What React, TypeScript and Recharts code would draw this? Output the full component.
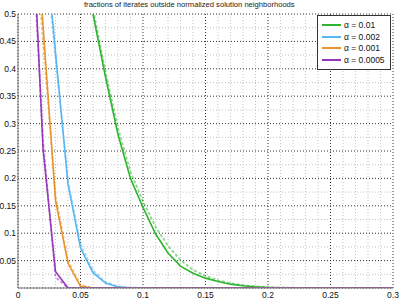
import { LineChart, Line, XAxis, YAxis, CartesianGrid, Legend } from 'recharts';

// sample positions (x axis)
const xs = [
  0.01, 0.02, 0.03, 0.04, 0.05, 0.06, 0.07, 0.08, 0.09, 0.1,
  0.11, 0.12, 0.13, 0.14, 0.15, 0.16, 0.17, 0.18, 0.19, 0.2,
  0.21, 0.22, 0.23, 0.24, 0.25, 0.26, 0.27, 0.28, 0.29, 0.3,
];

const alphaLabels = ['α = 0.01', 'α = 0.002', 'α = 0.001', 'α = 0.0005'];

// measured fractions (solid)
const measured001 = [
  null, null, null, null, 0.64, 0.5, 0.385, 0.28, 0.2, 0.147,
  0.099, 0.064, 0.04, 0.027, 0.018, 0.012, 0.007, 0.004, 0.002, 0.001,
  0, 0, 0, 0, 0, 0, 0, 0, 0, 0,
];
const measured0002 = [
  null, 0.68, 0.43, 0.19, 0.073, 0.028, 0.009, 0.002, 0, 0,
  0, 0, 0, 0, 0, 0, 0, 0, 0, 0,
  0, 0, 0, 0, 0, 0, 0, 0, 0, 0,
];
const measured0001 = [
  0.76, 0.48, 0.16, 0.045, 0.003, 0, 0, 0, 0, 0,
  0, 0, 0, 0, 0, 0, 0, 0, 0, 0,
  0, 0, 0, 0, 0, 0, 0, 0, 0, 0,
];
const measured00005 = [
  0.75, 0.255, 0.03, 0, 0, 0, 0, 0, 0, 0,
  0, 0, 0, 0, 0, 0, 0, 0, 0, 0,
  0, 0, 0, 0, 0, 0, 0, 0, 0, 0,
];

// predicted fractions (dashed)
const predicted001 = [
  null, null, null, null, 0.66, 0.51, 0.395, 0.292, 0.212, 0.158,
  0.112, 0.077, 0.051, 0.033, 0.022, 0.014, 0.009, 0.005, 0.003, 0.002,
  0.001, 0.0005, 0, 0, 0, 0, 0, 0, 0, 0,
];
const predicted0002 = [
  null, 0.66, 0.42, 0.195, 0.08, 0.032, 0.011, 0.003, 0.001, 0,
  0, 0, 0, 0, 0, 0, 0, 0, 0, 0,
  0, 0, 0, 0, 0, 0, 0, 0, 0, 0,
];
const predicted0001 = [
  0.74, 0.45, 0.17, 0.05, 0.006, 0, 0, 0, 0, 0,
  0, 0, 0, 0, 0, 0, 0, 0, 0, 0,
  0, 0, 0, 0, 0, 0, 0, 0, 0, 0,
];
const predicted00005 = [
  0.7, 0.27, 0.02, 0, 0, 0, 0, 0, 0, 0,
  0, 0, 0, 0, 0, 0, 0, 0, 0, 0,
  0, 0, 0, 0, 0, 0, 0, 0, 0, 0,
];

const xTicks = [0, 0.05, 0.1, 0.15, 0.2, 0.25, 0.3];
const yTicks = [0, 0.05, 0.1, 0.15, 0.2, 0.25, 0.3, 0.35, 0.4, 0.45, 0.5];
const xMinor = [0.01, 0.02, 0.03, 0.04, 0.06, 0.07, 0.08, 0.09, 0.11, 0.12, 0.13, 0.14, 0.16, 0.17, 0.18, 0.19, 0.21, 0.22, 0.23, 0.24, 0.26, 0.27, 0.28, 0.29];
const yMinor = [0.025, 0.075, 0.125, 0.175, 0.225, 0.275, 0.325, 0.375, 0.425, 0.475];

const measured = [measured001, measured0002, measured0001, measured00005];
const predicted = [predicted001, predicted0002, predicted0001, predicted00005];
const colors = ['#2fb42f', '#58b7f3', '#e8942d', '#9538ba'];

const data = xs.map((x, i) => {
  const row: Record<string, number | null> = { x };
  measured.forEach((s, k) => (row['m' + k] = s[i]));
  predicted.forEach((s, k) => (row['p' + k] = s[i]));
  return row;
});

const font = '"Liberation Sans", Arial, sans-serif';

const LegendBox = () => (
  <div
    style={{
      border: '1px solid #333',
      background: '#fff',
      padding: '3px 4px 3px 4px',
      fontFamily: font,
      fontSize: 8.5,
      color: '#111',
      boxSizing: 'border-box',
      width: 74,
    }}
  >
    {alphaLabels.map((label, k) => (
      <div key={label} style={{ display: 'flex', alignItems: 'center', height: 11.7 }}>
        <span style={{ display: 'inline-block', width: 19, height: 2, background: colors[k], marginRight: 3 }} />
        <span>{label}</span>
      </div>
    ))}
  </div>
);

const fmt = (v: number) => (v === 0 ? '' : String(v));
const fmtX = (v: number) => String(v);

export default function App() {
  return (
    <div style={{ position: 'absolute', left: 0, top: 0, width: 399, height: 299, background: '#fff' }}>
      <div
        style={{
          position: 'absolute',
          left: 84,
          top: 0,
          fontFamily: font,
          fontSize: 7.6,
          lineHeight: '10px',
          whiteSpace: 'nowrap',
          color: '#222',
        }}
      >
        fractions of iterates outside normalized solution neighborhoods
      </div>
      <LineChart width={399} height={299} data={data} margin={{ top: 14, right: 6, bottom: 0, left: 0 }}>
        <CartesianGrid horizontalValues={yMinor} verticalValues={xMinor} stroke="#c4c4c4" strokeDasharray="1 2" />
        <CartesianGrid horizontalValues={yTicks} verticalValues={xTicks} stroke="#333" strokeDasharray="1 2" />
        <XAxis
          dataKey="x"
          type="number"
          domain={[0, 0.3]}
          ticks={xTicks}
          tickFormatter={fmtX}
          height={11}
          tickLine={false}
          tickSize={0}
          tickMargin={4}
          axisLine={{ stroke: '#777' }}
          tick={{ fill: '#111', fontSize: 8.5, fontFamily: font }}
          interval={0}
        />
        <YAxis
          type="number"
          domain={[0, 0.5]}
          allowDataOverflow
          ticks={yTicks}
          tickFormatter={fmt}
          width={18}
          tickLine={false}
          tickSize={0}
          tickMargin={2}
          axisLine={{ stroke: '#777' }}
          tick={{ fill: '#111', fontSize: 8.5, fontFamily: font }}
          interval={0}
        />
        {predicted.map((_, k) => (
          <Line
            key={'p' + k}
            dataKey={'p' + k}
            stroke={colors[k]}
            strokeOpacity={0.55}
            strokeWidth={1.8}
            strokeDasharray="3 2"
            dot={false}
            legendType="none"
            isAnimationActive={false}
          />
        ))}
        {measured.map((_, k) => (
          <Line
            key={'m' + k}
            dataKey={'m' + k}
            name={alphaLabels[k]}
            stroke={colors[k]}
            strokeWidth={1.6}
            dot={false}
            isAnimationActive={false}
          />
        ))}
        <Legend
          content={LegendBox}
          layout="vertical"
          align="center"
          verticalAlign="middle"
          wrapperStyle={{ left: 317, top: 15, width: 74, height: 53 }}
        />
      </LineChart>
    </div>
  );
}
